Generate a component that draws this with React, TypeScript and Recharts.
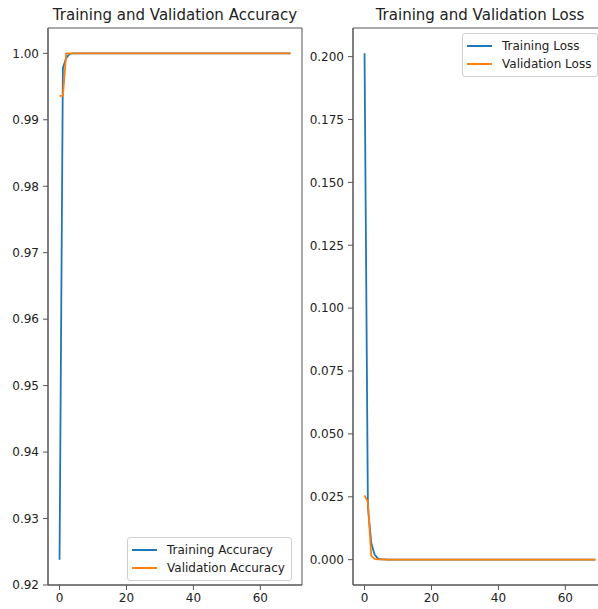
import { LineChart, XAxis, YAxis, Line, Legend, ReferenceArea } from 'recharts'

// per-epoch values (70 epochs, 0..69)
const trainAcc = [
  0.9238, 0.9978, 0.9993, 0.9999, 1.0, 1.0, 1.0, 1.0, 1.0, 1.0,
  1.0, 1.0, 1.0, 1.0, 1.0, 1.0, 1.0, 1.0, 1.0, 1.0,
  1.0, 1.0, 1.0, 1.0, 1.0, 1.0, 1.0, 1.0, 1.0, 1.0,
  1.0, 1.0, 1.0, 1.0, 1.0, 1.0, 1.0, 1.0, 1.0, 1.0,
  1.0, 1.0, 1.0, 1.0, 1.0, 1.0, 1.0, 1.0, 1.0, 1.0,
  1.0, 1.0, 1.0, 1.0, 1.0, 1.0, 1.0, 1.0, 1.0, 1.0,
  1.0, 1.0, 1.0, 1.0, 1.0, 1.0, 1.0, 1.0, 1.0, 1.0,
]
const valAcc = [
  0.9936, 0.9936, 1.0, 1.0, 1.0, 1.0, 1.0, 1.0, 1.0, 1.0,
  1.0, 1.0, 1.0, 1.0, 1.0, 1.0, 1.0, 1.0, 1.0, 1.0,
  1.0, 1.0, 1.0, 1.0, 1.0, 1.0, 1.0, 1.0, 1.0, 1.0,
  1.0, 1.0, 1.0, 1.0, 1.0, 1.0, 1.0, 1.0, 1.0, 1.0,
  1.0, 1.0, 1.0, 1.0, 1.0, 1.0, 1.0, 1.0, 1.0, 1.0,
  1.0, 1.0, 1.0, 1.0, 1.0, 1.0, 1.0, 1.0, 1.0, 1.0,
  1.0, 1.0, 1.0, 1.0, 1.0, 1.0, 1.0, 1.0, 1.0, 1.0,
]
const trainLoss = [
  0.2013, 0.021, 0.0067, 0.002, 0.0004, 0.0001, 0.0001, 0.0, 0.0, 0.0,
  0.0, 0.0, 0.0, 0.0, 0.0, 0.0, 0.0, 0.0, 0.0, 0.0,
  0.0, 0.0, 0.0, 0.0, 0.0, 0.0, 0.0, 0.0, 0.0, 0.0,
  0.0, 0.0, 0.0, 0.0, 0.0, 0.0, 0.0, 0.0, 0.0, 0.0,
  0.0, 0.0, 0.0, 0.0, 0.0, 0.0, 0.0, 0.0, 0.0, 0.0,
  0.0, 0.0, 0.0, 0.0, 0.0, 0.0, 0.0, 0.0, 0.0, 0.0,
  0.0, 0.0, 0.0, 0.0, 0.0, 0.0, 0.0, 0.0, 0.0, 0.0,
]
const valLoss = [
  0.0256, 0.0228, 0.0015, 0.0003, 0.0001, 0.0001, 0.0, 0.0, 0.0, 0.0,
  0.0, 0.0, 0.0, 0.0, 0.0, 0.0, 0.0, 0.0, 0.0, 0.0,
  0.0, 0.0, 0.0, 0.0, 0.0, 0.0, 0.0, 0.0, 0.0, 0.0,
  0.0, 0.0, 0.0, 0.0, 0.0, 0.0, 0.0, 0.0, 0.0, 0.0,
  0.0, 0.0, 0.0, 0.0, 0.0, 0.0, 0.0, 0.0, 0.0, 0.0,
  0.0, 0.0, 0.0, 0.0, 0.0, 0.0, 0.0, 0.0, 0.0, 0.0,
  0.0, 0.0, 0.0, 0.0, 0.0, 0.0, 0.0, 0.0, 0.0, 0.0,
]

const xTicks = [0, 20, 40, 60]
const accTicks = [0.92, 0.93, 0.94, 0.95, 0.96, 0.97, 0.98, 0.99, 1.0]
const lossTicks = [0.0, 0.025, 0.05, 0.075, 0.1, 0.125, 0.15, 0.175, 0.2]

const BLUE = '#1f77b4'
const ORANGE = '#ff7f0e'
const FONT = '"DejaVu Sans", sans-serif'
const SPINE = '#555'
const TICK = { fill: '#222', fontSize: 12, fontFamily: FONT }

// matplotlib-style 5% margins
const X_DOMAIN: [number, number] = [-3.45, 72.45]
const ACC_DOMAIN: [number, number] = [0.92, 1.00381]
const LOSS_DOMAIN: [number, number] = [-0.01007, 0.21137]

const accRows = trainAcc.map((v, i) => ({ epoch: i, train: v, val: valAcc[i] }))
const lossRows = trainLoss.map((v, i) => ({ epoch: i, train: v, val: valLoss[i] }))

function MplLegend({ labels }: { labels: string[] }) {
  const colors = [BLUE, ORANGE]
  return (
    <div
      style={{
        background: 'rgba(255,255,255,0.8)',
        border: '1px solid #d0d0d0',
        borderRadius: 3,
        padding: '3px 6px 3px 4px',
        fontFamily: FONT,
        fontSize: 12,
        color: '#222',
        whiteSpace: 'nowrap',
      }}
    >
      {labels.map((l, i) => (
        <div key={l} style={{ display: 'flex', alignItems: 'center', height: 18 }}>
          <span style={{ width: 25, height: 2, background: colors[i], marginRight: 10 }} />
          {l}
        </div>
      ))}
    </div>
  )
}

const titleStyle = {
  position: 'absolute' as const,
  top: 6,
  fontFamily: FONT,
  fontSize: 15,
  color: '#222',
  textAlign: 'center' as const,
  whiteSpace: 'nowrap' as const,
}

export default function App() {
  return (
    <div
      style={{
        position: 'fixed',
        left: 0,
        top: 0,
        width: 598,
        height: 609,
        overflow: 'hidden',
        background: '#fff',
      }}
    >
      <div style={{ ...titleStyle, left: 48, width: 254 }}>Training and Validation Accuracy</div>
      <div style={{ ...titleStyle, left: 353, width: 254 }}>Training and Validation Loss</div>

      <div style={{ position: 'absolute', left: 0, top: 0 }}>
        <LineChart width={310} height={609} data={accRows} margin={{ top: 28, right: 8, bottom: 0, left: 0 }}>
          <XAxis
            dataKey="epoch"
            type="number"
            domain={X_DOMAIN}
            ticks={xTicks}
            allowDataOverflow
            height={24}
            tick={TICK}
            tickSize={5}
            tickMargin={3}
            axisLine={{ stroke: SPINE }}
            tickLine={{ stroke: SPINE }}
          />
          <YAxis
            type="number"
            domain={ACC_DOMAIN}
            ticks={accTicks}
            allowDataOverflow
            width={48}
            tick={TICK}
            tickSize={5}
            tickMargin={4}
            tickFormatter={(v: number) => v.toFixed(2)}
            axisLine={{ stroke: SPINE }}
            tickLine={{ stroke: SPINE }}
          />
          <ReferenceArea
            x1={X_DOMAIN[0]}
            x2={X_DOMAIN[1]}
            y1={ACC_DOMAIN[0]}
            y2={ACC_DOMAIN[1]}
            fill="none"
            stroke={SPINE}
            strokeWidth={1}
          />
          <Line dataKey="train" name="Training Accuracy" stroke={BLUE} strokeWidth={1.8} dot={false} isAnimationActive={false} />
          <Line dataKey="val" name="Validation Accuracy" stroke={ORANGE} strokeWidth={1.8} dot={false} isAnimationActive={false} />
          <Legend
            layout="vertical"
            align="center"
            verticalAlign="middle"
            wrapperStyle={{ left: 127, top: 537, width: 'auto' }}
            content={() => <MplLegend labels={['Training Accuracy', 'Validation Accuracy']} />}
          />
        </LineChart>
      </div>

      <div style={{ position: 'absolute', left: 300, top: 0 }}>
        <LineChart width={315} height={609} data={lossRows} margin={{ top: 28, right: 8, bottom: 0, left: 0 }}>
          <XAxis
            dataKey="epoch"
            type="number"
            domain={X_DOMAIN}
            ticks={xTicks}
            allowDataOverflow
            height={24}
            tick={TICK}
            tickSize={5}
            tickMargin={3}
            axisLine={{ stroke: SPINE }}
            tickLine={{ stroke: SPINE }}
          />
          <YAxis
            type="number"
            domain={LOSS_DOMAIN}
            ticks={lossTicks}
            allowDataOverflow
            width={53}
            tick={TICK}
            tickSize={5}
            tickMargin={4}
            tickFormatter={(v: number) => v.toFixed(3)}
            axisLine={{ stroke: SPINE }}
            tickLine={{ stroke: SPINE }}
          />
          <ReferenceArea
            x1={X_DOMAIN[0]}
            x2={X_DOMAIN[1]}
            y1={LOSS_DOMAIN[0]}
            y2={LOSS_DOMAIN[1]}
            fill="none"
            stroke={SPINE}
            strokeWidth={1}
          />
          <Line dataKey="train" name="Training Loss" stroke={BLUE} strokeWidth={1.8} dot={false} isAnimationActive={false} />
          <Line dataKey="val" name="Validation Loss" stroke={ORANGE} strokeWidth={1.8} dot={false} isAnimationActive={false} />
          <Legend
            layout="vertical"
            align="center"
            verticalAlign="middle"
            wrapperStyle={{ left: 162, top: 33, width: 'auto' }}
            content={() => <MplLegend labels={['Training Loss', 'Validation Loss']} />}
          />
        </LineChart>
      </div>
    </div>
  )
}
